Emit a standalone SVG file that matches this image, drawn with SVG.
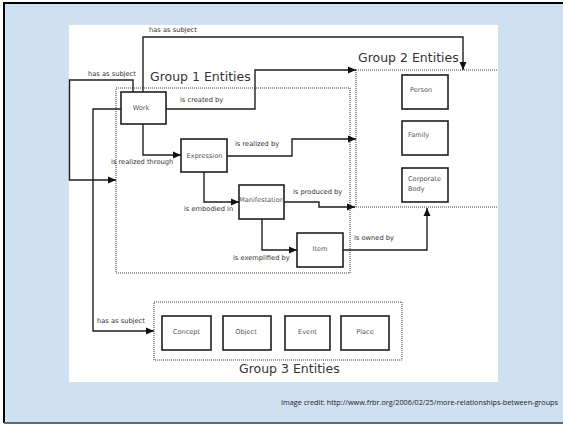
<svg xmlns="http://www.w3.org/2000/svg" width="563" height="424" viewBox="0 0 563 424">
<defs>
<marker id="ah" markerUnits="userSpaceOnUse" markerWidth="9" markerHeight="8" refX="8" refY="4" orient="auto">
<path d="M0,0.5 L8,4 L0,7.5 Z" fill="#111"/>
</marker>
<style>
.ln{fill:none;stroke:#1e1e1e;stroke-width:1.4}
.dot{fill:none;stroke:#808080;stroke-width:1.6;stroke-dasharray:1 1}
.box{fill:#fff;stroke:#1e1e1e;stroke-width:1.6}
.lab{font-family:"DejaVu Sans",sans-serif;font-size:6.7px;fill:#333}
.nl{font-family:"DejaVu Sans",sans-serif;font-size:6.6px;fill:#555}
.ttl{font-family:"DejaVu Sans",sans-serif;font-size:12.5px;fill:#333}
.cr{font-family:"Open Sans","Liberation Sans",sans-serif;font-size:7px;fill:#222}
</style>
</defs>
<rect x="0" y="0" width="563" height="424" fill="#fff"/>
<rect x="4" y="3" width="559" height="420" fill="#cfe0f1"/>
<line x1="3" y1="3" x2="563" y2="3" stroke="#000" stroke-width="2"/>
<line x1="4" y1="2" x2="4" y2="423" stroke="#000" stroke-width="2"/>
<line x1="4" y1="423" x2="563" y2="423" stroke="#606870" stroke-width="2"/>
<rect x="69" y="25" width="429" height="357" fill="#fff"/>

<g id="group1">
<rect class="dot" x="116" y="88" width="234" height="185"/>
<text class="ttl" x="150" y="81">Group 1 Entities</text>
</g>
<g id="group2">
<path class="dot" d="M356,70 H498 M356,70 V207 M350,207 H498"/>
<text class="ttl" x="358" y="62">Group 2 Entities</text>
</g>
<g id="group3">
<rect class="dot" x="154" y="302" width="248" height="58"/>
<text class="ttl" x="239" y="373">Group 3 Entities</text>
</g>

<g id="connectors">
<path class="ln" d="M143,92 V37 H463 V70" marker-end="url(#ah)"/>
<path class="ln" d="M133,92 V80 H69.5 V180 H116" marker-end="url(#ah)"/>
<path class="ln" d="M122,109 H93 V331 H154" marker-end="url(#ah)"/>
<path class="ln" d="M166,109 H255 V70 H356" marker-end="url(#ah)"/>
<path class="ln" d="M143,124 V155 H181" marker-end="url(#ah)"/>
<path class="ln" d="M227,156 H292 V139 H356" marker-end="url(#ah)"/>
<path class="ln" d="M204,172 V202 H239" marker-end="url(#ah)"/>
<path class="ln" d="M284,202 H319 V207 H355" marker-end="url(#ah)"/>
<path class="ln" d="M262,219 V250 H297" marker-end="url(#ah)"/>
<path class="ln" d="M343,250 H427 V208" marker-end="url(#ah)"/>
<text class="lab" x="149" y="32">has as subject</text>
<text class="lab" x="88" y="76">has as subject</text>
<text class="lab" x="97" y="323">has as subject</text>
<text class="lab" x="180" y="102">is created by</text>
<text class="lab" x="111" y="164">is realized through</text>
<text class="lab" x="235" y="146">is realized by</text>
<text class="lab" x="184" y="211">is embodied in</text>
<text class="lab" x="293" y="194">is produced by</text>
<text class="lab" x="233" y="260">is exemplified by</text>
<text class="lab" x="354" y="240">is owned by</text>
</g>

<g id="work"><rect class="box" x="121" y="92" width="45" height="32"/><text class="nl" x="141" y="110" text-anchor="middle">Work</text></g>
<g id="expression"><rect class="box" x="181" y="139" width="46" height="33"/><text class="nl" x="204.5" y="158" text-anchor="middle">Expression</text></g>
<g id="manifestation"><rect class="box" x="239" y="185" width="45" height="34"/><text class="nl" x="261.5" y="202" text-anchor="middle">Manifestation</text></g>
<g id="item"><rect class="box" x="297" y="233" width="46" height="34"/><text class="nl" x="320" y="251" text-anchor="middle">Item</text></g>

<g id="person"><rect class="box" x="402" y="75" width="46" height="34"/><text class="nl" x="410" y="92">Person</text></g>
<g id="family"><rect class="box" x="402" y="121" width="46" height="34"/><text class="nl" x="408" y="137">Family</text></g>
<g id="corporate"><rect class="box" x="402" y="168" width="46" height="34"/><text class="nl" x="408" y="181">Corporate</text><text class="nl" x="408" y="191">Body</text></g>

<g id="concept"><rect class="box" x="162" y="316" width="49" height="34"/><text class="nl" x="186.5" y="334" text-anchor="middle">Concept</text></g>
<g id="object"><rect class="box" x="223" y="316" width="48" height="34"/><text class="nl" x="246" y="334" text-anchor="middle">Object</text></g>
<g id="event"><rect class="box" x="285" y="316" width="45" height="34"/><text class="nl" x="307.5" y="334" text-anchor="middle">Event</text></g>
<g id="place"><rect class="box" x="341" y="316" width="48" height="34"/><text class="nl" x="365" y="334" text-anchor="middle">Place</text></g>

<text class="cr" x="281" y="405" textLength="277" lengthAdjust="spacingAndGlyphs">Image credit: http://www.frbr.org/2006/02/25/more-relationships-between-groups</text>
</svg>
